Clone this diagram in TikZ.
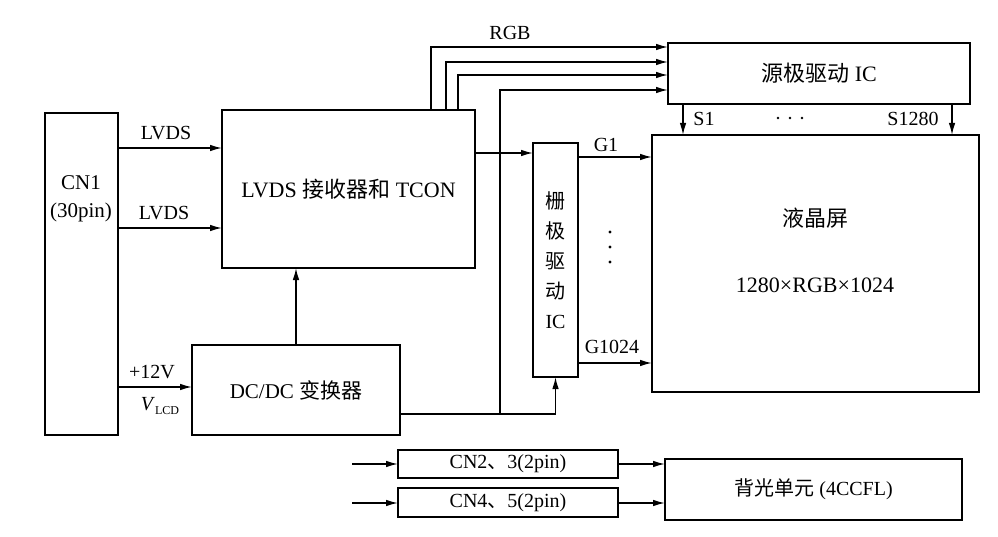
\documentclass[tikz,border=0pt]{standalone}
\usepackage{fontspec}
\setmainfont{Liberation Serif}
\newfontfamily\cjk{Noto Sans CJK SC}
\usetikzlibrary{arrows.meta}
\begin{document}
\begin{tikzpicture}[x=1pt,y=-1pt,
  box/.style={draw, line width=1.6pt, inner sep=0pt, outer sep=0pt, anchor=north west,
    font=\fontsize{22}{26}\selectfont, align=center},
  arr/.style={line width=1.3pt, -{Latex[length=12pt,width=6.5pt]}},
  lbl/.style={font=\fontsize{20}{24}\selectfont, inner sep=0pt, align=center}]
\useasboundingbox[fill=white] (0,0) rectangle (998,537);

% boxes
\node[box, minimum width=73pt, minimum height=322pt] (cn1) at (45,113) {};
\node[lbl, font=\fontsize{21}{28}\selectfont] (cn1t) at (81,199) {CN1\\(30pin)};
\node[box, minimum width=253pt, minimum height=158pt] (lvds) at (222,110) {LVDS {\cjk 接收器和} TCON};
\node[box, minimum width=208pt, minimum height=90pt, font=\fontsize{21}{25}\selectfont] (dcdc) at (192,345) {DC/DC {\cjk 变换器}};
\node[box, minimum width=45pt, minimum height=234pt, font=\fontsize{20}{30}\selectfont] (gate) at (533,143)
  {{\cjk 栅}\\{\cjk 极}\\{\cjk 驱}\\{\cjk 动}\\IC};
\node[box, minimum width=302pt, minimum height=61pt] (src) at (668,43) {{\cjk 源极驱动} IC};
\node[box, minimum width=327pt, minimum height=257pt] (lcd) at (652,135) {};
\node[lbl, font=\fontsize{22}{26}\selectfont] (lcdt1) at (815,218) {{\cjk 液晶屏}};
\node[lbl, font=\fontsize{22}{26}\selectfont] (lcdt2) at (815,285) {1280×RGB×1024};
\node[box, minimum width=220pt, minimum height=28pt, font=\fontsize{20}{24}\selectfont] (cn23) at (398,450) {CN2{\cjk 、}3(2pin)};
\node[box, minimum width=220pt, minimum height=29pt, font=\fontsize{20}{24}\selectfont] (cn45) at (398,488) {CN4{\cjk 、}5(2pin)};
\node[box, minimum width=297pt, minimum height=61pt, font=\fontsize{20}{24}\selectfont] (bl) at (665,459) {{\cjk 背光单元} (4CCFL)};

% CN1 outputs
\draw[arr] (cn1.east |- 0,148) -- (lvds.west |- 0,148);
\draw[arr] (cn1.east |- 0,228) -- (lvds.west |- 0,228);
\draw[arr] (cn1.east |- 0,387) -- (dcdc.west |- 0,387);
\node[lbl] (l1) at (166,133) {LVDS};
\node[lbl] (l2) at (164,213) {LVDS};
\node[lbl] (l3) at (152,372) {+12V};
\node[lbl] (l4) at (160,406) {\textit{V}\raisebox{-0.5ex}{\fontsize{12}{14}\selectfont LCD}};

% DC/DC
\draw[arr] (dcdc.north) -- (dcdc.north |- lvds.south);
\coordinate (j) at (500,414);
\draw[arr] (dcdc.east |- j) -- (gate.south |- j) -- (gate.south);
\draw[arr] (j) -- (500,90) -- (src.west |- 0,90);

% RGB
\draw[arr] (lvds.north -| 431,0) |- (src.west |- 0,47);
\draw[arr] (lvds.north -| 446,0) |- (src.west |- 0,62);
\draw[arr] (lvds.north -| 458,0) |- (src.west |- 0,75);
\node[lbl] (rgb) at (510,33) {RGB};

% LVDS -> gate
\draw[arr] (lvds.east |- 0,153) -- (gate.west |- 0,153);

% gate -> LCD
\draw[arr] (gate.east |- 0,157) -- (lcd.west |- 0,157);
\draw[arr] (gate.east |- 0,363) -- (lcd.west |- 0,363);
\node[lbl] (g1) at (606,145) {G1};
\node[lbl] (g1024) at (612,347) {G1024};
\fill (610,232) circle (1.6pt) (610,247) circle (1.6pt) (610,262) circle (1.6pt);

% source -> LCD
\draw[arr] (src.south -| 683,0) -- (lcd.north -| 683,0);
\draw[arr] (src.south -| 952,0) -- (lcd.north -| 952,0);
\node[lbl] (s1) at (704,119) {S1};
\fill (778,118) circle (1.4pt) (790,118) circle (1.4pt) (802,118) circle (1.4pt);
\node[lbl] (s1280) at (913,119) {S1280};

% backlight
\coordinate (in1) at (352,464);
\coordinate (in2) at (352,503);
\draw[arr] (in1) -- (cn23.west |- in1);
\draw[arr] (in2) -- (cn45.west |- in2);
\draw[arr] (cn23.east |- in1) -- (bl.west |- in1);
\draw[arr] (cn45.east |- in2) -- (bl.west |- in2);
\end{tikzpicture}
\end{document}
